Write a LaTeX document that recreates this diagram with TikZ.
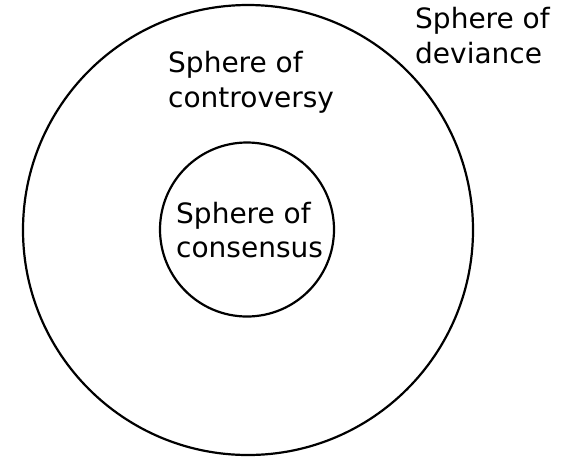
\documentclass[tikz,border=0pt]{standalone}
\usepackage{fontspec}
\setmainfont{DejaVu Sans}
\begin{document}
\begin{tikzpicture}[x=1pt,y=-1pt,
  ring/.style={draw=black,line width=2.2pt},
  lbl/.style={anchor=base west,inner sep=0pt,align=left,font=\fontsize{28}{34.5}\selectfont}]
\useasboundingbox (0,0) rectangle (564,456);
\node[ring,circle,minimum size=450pt,inner sep=0pt] (outer) at (248,230) {};
\node[ring,circle,minimum size=174pt,inner sep=0pt] (inner) at (247,229.5) {};
\node[lbl] (dev) at (415,63) {Sphere of\\deviance};
\node[lbl] (con) at (168,107) {Sphere of\\controversy};
\node[lbl] (cons) at (176,257.5) {Sphere of\\consensus};
\end{tikzpicture}
\end{document}
